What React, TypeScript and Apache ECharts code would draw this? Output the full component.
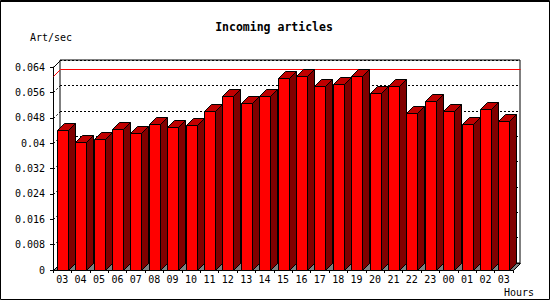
import React, { useEffect, useRef } from "react";
import * as echarts from "echarts";

const hours = ["03", "04", "05", "06", "07", "08", "09", "10", "11", "12", "13", "14", "15", "16", "17", "18", "19", "20", "21", "22", "23", "00", "01", "02", "03"];
const artPerSec = [0.0441, 0.0403, 0.0413, 0.0444, 0.0432, 0.0460, 0.0451, 0.0457, 0.0502, 0.0549, 0.0526, 0.0549, 0.0606, 0.0613, 0.0581, 0.0587, 0.0612, 0.0559, 0.0580, 0.0496, 0.0533, 0.0502, 0.0461, 0.0508, 0.0471];
const yTicks = [0, 0.008, 0.016, 0.024, 0.032, 0.04, 0.048, 0.056, 0.064];
const titleText = "Incoming articles";
const yUnit = "Art/sec";
const xUnit = "Hours";

const D = 7;
const FONT = "'DejaVu Sans Mono', monospace";

export default function App() {
  const ref = useRef<HTMLDivElement>(null);
  useEffect(() => {
    const chart = echarts.init(ref.current!, null, { renderer: "svg" });
    const yMax = yTicks[yTicks.length - 1];
    const yStep = yTicks[1] - yTicks[0];
    const maxVal = Math.max(...artPerSec);
    const fmt = (v: number) => String(parseFloat(Number(v).toFixed(3)));
    const px = (v: number) => Math.round(v) + 0.5;

    const baseGraphic: any[] = [
      { id: "border", type: "rect", shape: { x: 0.5, y: 0.5, width: 549, height: 299 }, style: { fill: "none", stroke: "#000", lineWidth: 1 }, z: 10 },
      { id: "border2", type: "line", shape: { x1: 0, y1: 1.5, x2: 550, y2: 1.5 }, style: { stroke: "#000", lineWidth: 1 }, z: 10 },
      { id: "title", type: "text", x: 274, y: 27, style: { text: titleText, font: `bold 11.5px ${FONT}`, fill: "#000", align: "center", verticalAlign: "middle" } },
      { id: "yunit", type: "text", x: 30, y: 37, style: { text: yUnit, font: `10px ${FONT}`, fill: "#000", align: "left", verticalAlign: "middle" } },
      { id: "xunit", type: "text", x: 504, y: 292, style: { text: xUnit, font: `10px ${FONT}`, fill: "#000", align: "left", verticalAlign: "middle" } },
    ];

    chart.setOption({
      animation: false,
      backgroundColor: "#ffffff",
      grid: [
        { left: 53, top: 67, width: 460, height: 203, containLabel: false },
        { left: 60, top: 60, width: 460, height: 203, show: true, borderColor: "#000", borderWidth: 1, backgroundColor: "transparent" },
      ],
      xAxis: [
        {
          type: "category", gridIndex: 0, data: hours, boundaryGap: true,
          axisLine: { show: true, lineStyle: { color: "#000", width: 1 } },
          axisTick: { show: true, length: 3, interval: 0, lineStyle: { color: "#000" } },
          axisLabel: { interval: 0, color: "#000", fontFamily: FONT, fontSize: 10, margin: 4 },
          splitLine: { show: false },
        },
        { type: "category", gridIndex: 1, data: hours, show: false },
      ],
      yAxis: [
        {
          type: "value", gridIndex: 0, min: 0, max: yMax, interval: yStep,
          axisLine: { show: true, lineStyle: { color: "#000" } },
          axisTick: { show: true, length: 3, lineStyle: { color: "#000" } },
          axisLabel: { color: "#000", fontFamily: FONT, fontSize: 10, margin: 8, formatter: fmt },
          splitLine: { show: false },
        },
        {
          type: "value", gridIndex: 1, min: 0, max: yMax, interval: yStep,
          axisLine: { show: false }, axisTick: { show: false }, axisLabel: { show: false },
          splitLine: { show: true, lineStyle: { color: "#000", type: [2, 2], width: 1 } },
        },
      ],
      graphic: baseGraphic,
      series: [
        {
          type: "custom", xAxisIndex: 0, yAxisIndex: 0, z: 1, silent: true,
          data: [[0, 0]],
          renderItem: (params: any, api: any) => {
            const cs = params.coordSys;
            const left = px(cs.x), top = px(cs.y), right = px(cs.x + cs.width), bottom = px(cs.y + cs.height);
            const children: any[] = [];
            children.push({ type: "polygon", shape: { points: [[left, bottom], [left + D, bottom - D], [right + D, bottom - D], [right, bottom]] }, style: { fill: "#808080", stroke: "#000", lineWidth: 1 } });
            children.push({ type: "line", shape: { x1: left, y1: top, x2: left + D, y2: top - D }, style: { stroke: "#000", lineWidth: 1 } });
            yTicks.forEach((t) => {
              if (t === 0 || t === yMax) return;
              const y = px(api.coord([0, t])[1]);
              children.push({ type: "line", shape: { x1: left, y1: y, x2: left + D, y2: y - D }, style: { stroke: "#000", lineWidth: 1, lineDash: [2, 2] } });
            });
            return { type: "group", children };
          },
        },
        {
          type: "custom", xAxisIndex: 0, yAxisIndex: 0, z: 3, silent: true,
          data: artPerSec.map((v, i) => [i, v]),
          renderItem: (params: any, api: any) => {
            const i = api.value(0), v = api.value(1);
            const [cx, yt] = api.coord([i, v]);
            const y0 = api.coord([i, 0])[1];
            const fw = 11;
            const x0 = px(cx - fw / 2);
            const x1 = x0 + fw;
            const ytop = px(yt);
            const yb = px(y0);
            return {
              type: "group",
              children: [
                { type: "polygon", shape: { points: [[x1, ytop], [x1 + D, ytop - D], [x1 + D, yb - D], [x1, yb]] }, style: { fill: "#800000", stroke: "#000", lineWidth: 1 } },
                { type: "polygon", shape: { points: [[x0, ytop], [x0 + D, ytop - D], [x1 + D, ytop - D], [x1, ytop]] }, style: { fill: "#c00000", stroke: "#000", lineWidth: 1 } },
                { type: "rect", shape: { x: x0, y: ytop, width: fw, height: yb - ytop }, style: { fill: "#ff0000", stroke: "#000", lineWidth: 1 } },
              ],
            };
          },
        },
      ],
    });

    // max line on the back wall, positioned through the value axis
    const pMax = chart.convertToPixel({ xAxisIndex: 0, yAxisIndex: 0 }, [0, maxVal]) as number[];
    const ym = px(pMax[1]);
    const left = 53.5, right = 513.5;
    chart.setOption({
      graphic: [
        ...baseGraphic,
        { id: "maxDiag", type: "line", z: 1, shape: { x1: left, y1: ym, x2: left + D, y2: ym - D }, style: { stroke: "#ff0000", lineWidth: 1 } },
        { id: "maxLine", type: "line", z: 1, shape: { x1: left + D, y1: ym - D, x2: right + D, y2: ym - D }, style: { stroke: "#ff0000", lineWidth: 1 } },
      ],
    });
    return () => chart.dispose();
  }, []);
  return <div ref={ref} style={{ position: "absolute", left: 0, top: 0, width: 550, height: 300 }} />;
}
